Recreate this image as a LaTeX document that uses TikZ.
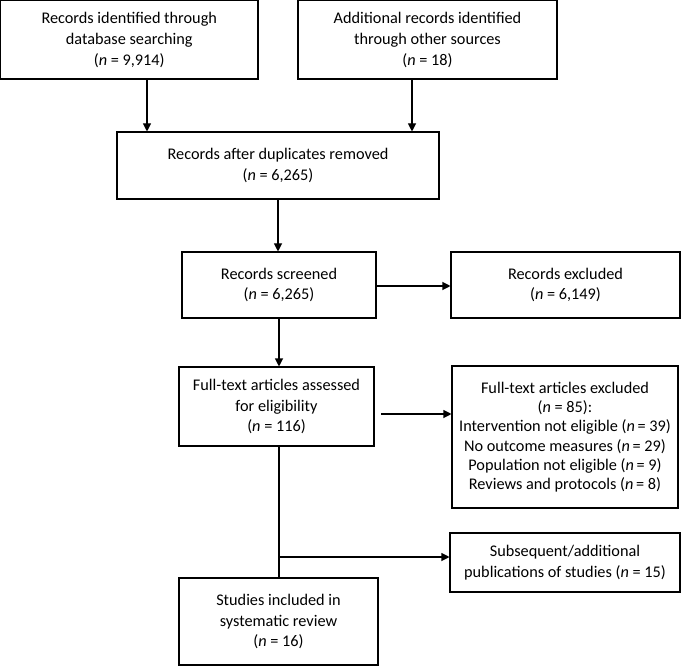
\documentclass[tikz,border=0pt]{standalone}
\usepackage{fontspec}
\setmainfont{Carlito}
\usetikzlibrary{arrows.meta}
\tikzset{
  box/.style={draw, line width=0.8pt, rectangle, inner sep=0pt, align=center,
    font=\fontsize{12.2}{15.6}\selectfont},
  tight/.style={font=\fontsize{12.2}{14.5}\selectfont},
  arr/.style={line width=0.8pt, -{Triangle[length=6pt,width=6pt]}},
  ln/.style={line width=0.8pt}
}
\newcommand\mybox[6][]{%
  \node[box,#1, minimum width={(#4-#2)*0.75pt}, minimum height={(#5-#3)*0.75pt}]
    (#6) at ({(#2+#4)/2},{(#3+#5)/2})}
\begin{document}
\begin{tikzpicture}[x=0.75pt,y=-0.75pt]
\useasboundingbox (0,0) rectangle (688,666);
\mybox{0.5}{0.5}{258}{79}{b1} {Records identified through\\database searching\\(\textit{n} = 9,914)};
\mybox{298}{0.5}{557}{79}{b2} {Additional records identified\\through other sources\\(\textit{n} = 18)};
\mybox{117}{132}{439}{199}{b3} {Records after duplicates removed\\(\textit{n} = 6,265)};
\mybox{182}{252}{376}{318}{b4} {Records screened\\(\textit{n} = 6,265)};
\mybox{451}{252}{680}{318}{b5} {Records excluded\\(\textit{n} = 6,149)};
\mybox{179}{367}{374}{446}{b6} {Full-text articles assessed\\for eligibility\\(\textit{n} = 116)};
\mybox[tight]{452}{366}{678}{508}{b7} {Full-text articles excluded\\(\textit{n} = 85):\\Intervention not eligible (\textit{n}\,= 39)\\No outcome measures (\textit{n}\,= 29)\\Population not eligible (\textit{n}\,= 9)\\Reviews and protocols (\textit{n}\,= 8)};
\mybox{450}{533}{680}{592}{b8} {Subsequent/additional\\publications of studies (\textit{n} = 15)};
\mybox{179}{578}{378}{665}{b9} {Studies included in\\systematic review\\(\textit{n} = 16)};

\draw[arr] (b1.south -| 147,0) -- (b3.north -| 147,0);
\draw[arr] (b2.south -| 412,0) -- (b3.north -| 412,0);
\draw[arr] (b3.south -| 278,0) -- (b4.north -| 278,0);
\draw[arr] (b4.east |- 0,286) -- (b5.west |- 0,286);
\draw[arr] (b4.south -| 279,0) -- (b6.north -| 279,0);
\coordinate (s6) at (381,414);
\draw[arr] (s6) -- (b7.west |- s6);
\draw[ln] (b6.south -| 279,0) -- (b9.north -| 279,0);
\coordinate (j) at (279,557);
\draw[arr] (j) -- (b8.west |- j);
\end{tikzpicture}
\end{document}
